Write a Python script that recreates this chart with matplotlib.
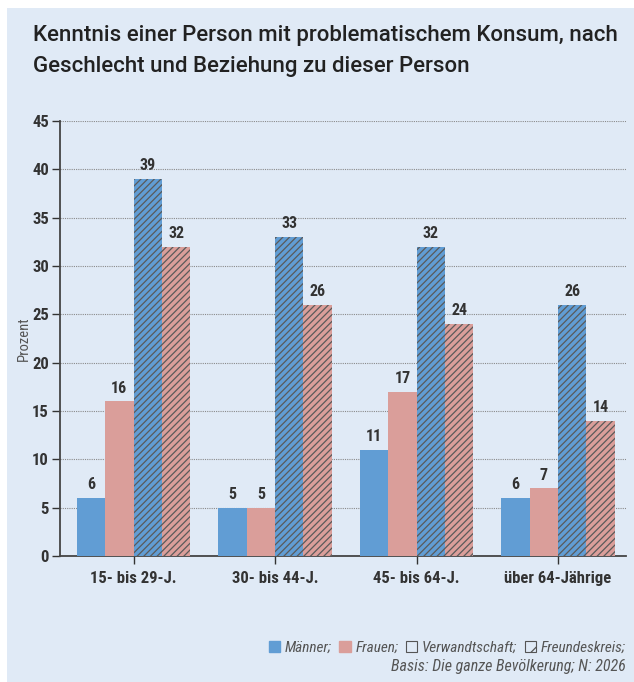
import matplotlib.pyplot as plt
from matplotlib.patches import Patch, Rectangle
import numpy as np

plt.rcParams['font.family'] = ['Roboto Condensed', 'Archivo Narrow', 'PT Sans Narrow',
                               'Fira Sans Condensed', 'Liberation Sans Narrow', 'DejaVu Sans']
plt.rcParams['hatch.linewidth'] = 0.9

categories = ['15- bis 29-J.', '30- bis 44-J.', '45- bis 64-J.', 'über 64-Jährige']
maenner_verw = [6, 5, 11, 6]
frauen_verw = [16, 5, 17, 7]
maenner_freund = [39, 33, 32, 26]
frauen_freund = [32, 26, 24, 14]

blue = '#619dd4'
pink = '#da9e9a'
bg = '#e0eaf6'
dark = '#333333'

fig = plt.figure(figsize=(6.34, 6.82), dpi=100)
fig.patch.set_facecolor('white')
# light blue panel, white strip at top and left
fig.patches.append(Rectangle((7/634, 0), 1, 1 - 8/682, transform=fig.transFigure,
                             facecolor=bg, edgecolor='none', zorder=-1))

ax = fig.add_axes([60/634, 1 - 556/682, (626 - 60)/634, (556 - 121)/682])
ax.set_facecolor(bg)

x = np.arange(len(categories))
w = 0.2
series = [(maenner_verw, blue, ''), (frauen_verw, pink, ''),
          (maenner_freund, blue, '/////'), (frauen_freund, pink, '/////')]
for i, (vals, col, hatch) in enumerate(series):
    pos = x + (i - 1.5) * w
    ax.bar(pos, vals, w, color=col, hatch=hatch, edgecolor='#5a5a5a' if hatch else col,
           linewidth=0, zorder=3)
    for xp, v in zip(pos, vals):
        ax.text(xp, v + 0.6, str(v), ha='center', va='bottom', fontsize=11.5,
                fontweight='bold', color=dark)

ax.set_ylim(0, 45)
ax.set_xlim(-0.52, 3.48)
ax.set_yticks(range(0, 46, 5))
ax.set_xticks(x)
ax.set_xticklabels(categories, fontsize=12, fontweight='bold', color=dark)
for lab in ax.get_yticklabels():
    lab.set_fontweight('bold')
ax.tick_params(axis='y', labelsize=12, labelcolor=dark, length=6, color=dark, width=1, pad=2)
ax.tick_params(axis='x', length=6, color=dark, width=1, pad=5)
ax.yaxis.grid(True, linestyle=(0, (1, 1)), color='#8a8a8a', linewidth=0.8, zorder=0)
ax.set_axisbelow(True)
for s in ['top', 'right']:
    ax.spines[s].set_visible(False)
for s in ['left', 'bottom']:
    ax.spines[s].set_color('#444444')
    ax.spines[s].set_linewidth(1.3)
ax.set_ylabel('Prozent', fontsize=10.5, color='#555555', labelpad=1)

fig.text(33/634, 1 - 51/682, 'Kenntnis einer Person mit problematischem Konsum, nach\nGeschlecht und Beziehung zu dieser Person',
         family=['Roboto', 'DejaVu Sans'], fontsize=16, fontweight='medium', color='#222222',
         va='center', ha='left', linespacing=1.6)

handles = [Patch(facecolor=blue, edgecolor=blue),
           Patch(facecolor=pink, edgecolor=pink),
           Patch(facecolor='none', edgecolor='#555555', linewidth=0.8),
           Patch(facecolor='none', edgecolor='#555555', linewidth=0.8, hatch='//')]
labels = ['Männer;', 'Frauen;', 'Verwandtschaft;', 'Freundeskreis;']
leg = fig.legend(handles, labels, loc='center right', bbox_to_anchor=(632/634, 1 - 648/682),
                 ncol=4, frameon=False, handlelength=0.75, handleheight=0.75,
                 handletextpad=0.3, columnspacing=0.5, borderaxespad=0,
                 prop={'style': 'italic', 'size': 11})
for t in leg.get_texts():
    t.set_color('#555555')
fig.text(626/634, 1 - 667/682, 'Basis: Die ganze Bevölkerung; N: 2026', ha='right', va='center',
         fontsize=11.5, style='italic', color='#555555')

fig.savefig('out.png', dpi=100, facecolor=fig.get_facecolor())
